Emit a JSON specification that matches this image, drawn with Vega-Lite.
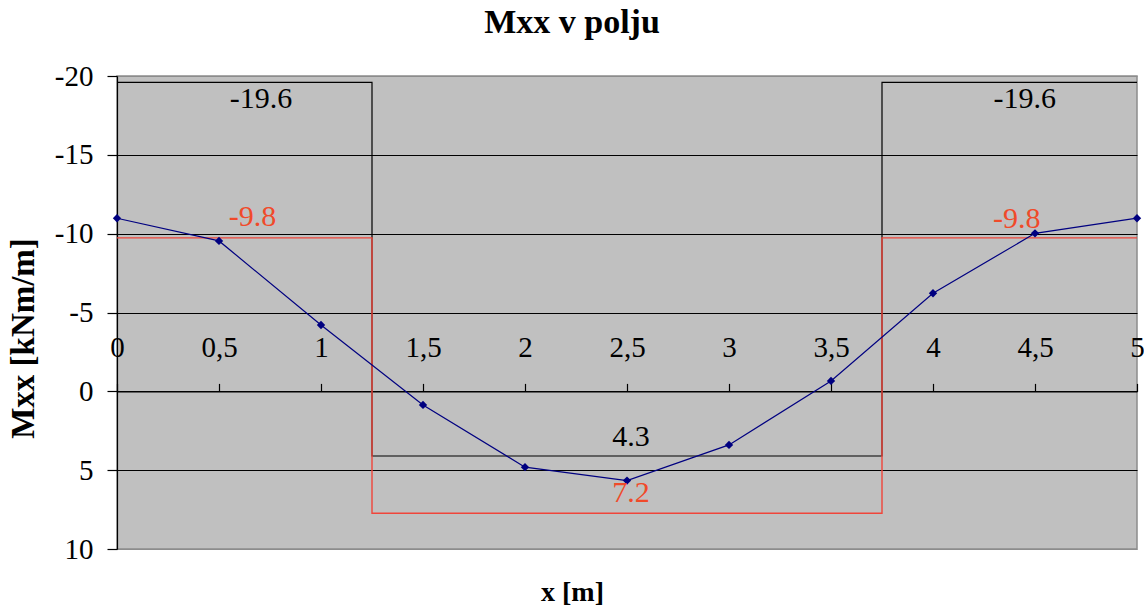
{
  "$schema": "https://vega.github.io/schema/vega-lite/v6.json",
  "width": 1020,
  "height": 473,
  "autosize": {"type": "none"},
  "padding": {"left": 117, "top": 76, "right": 7, "bottom": 57},
  "background": "white",
  "title": {
    "text": "Mxx v polju",
    "font": "Liberation Serif",
    "fontSize": 34,
    "fontWeight": "bold",
    "color": "black",
    "anchor": "middle",
    "frame": "group",
    "dx": -55,
    "offset": 22
  },
  "config": {
    "view": {"fill": "#c0c0c0", "stroke": "#8c8c8c", "strokeWidth": 1.5},
    "axis": {
      "labelFont": "Liberation Serif",
      "labelFontSize": 29,
      "labelColor": "black",
      "titleFont": "Liberation Serif",
      "titleFontSize": 30,
      "titleFontWeight": "bold",
      "titleColor": "black",
      "domainColor": "black",
      "tickColor": "black",
      "domainWidth": 1.2,
      "tickWidth": 1.2
    }
  },
  "layer": [
    {
      "data": {
        "values": [
          {"x": 0, "y": -19.6, "i": 0},
          {"x": 1.25, "y": -19.6, "i": 1},
          {"x": 1.25, "y": 4.1, "i": 2},
          {"x": 3.75, "y": 4.1, "i": 3},
          {"x": 3.75, "y": -19.6, "i": 4},
          {"x": 5, "y": -19.6, "i": 5}
        ]
      },
      "mark": {"type": "line", "color": "black", "strokeWidth": 1.2},
      "encoding": {
        "x": {
          "field": "x",
          "type": "quantitative",
          "scale": {"domain": [0, 5], "nice": false, "zero": false},
          "axis": {
            "orient": "top",
            "offset": -315.4,
            "values": [0, 0.5, 1, 1.5, 2, 2.5, 3, 3.5, 4, 4.5, 5],
            "labelExpr": "replace('' + datum.value, '.', ',')",
            "labelFlush": false,
            "labelOverlap": false,
            "labelBaseline": "alphabetic",
            "tickSize": 8,
            "labelPadding": 27,
            "grid": false,
            "title": "x [m]",
            "titleFontSize": 28,
            "titleX": 455,
            "titleY": 201,
            "titleAlign": "center",
            "titleBaseline": "middle",
            "titleAngle": 0
          }
        },
        "y": {
          "field": "y",
          "type": "quantitative",
          "scale": {"domain": [-20, 10], "nice": false, "zero": false, "reverse": true},
          "axis": {
            "orient": "left",
            "values": [-20, -15, -10, -5, 0, 5, 10],
            "labelExpr": "'' + datum.value",
            "tickSize": 10,
            "labelPadding": 14,
            "labelBaseline": "middle",
            "grid": true,
            "gridColor": {"condition": {"test": "datum.value == -20 || datum.value == 10", "value": "#8c8c8c"}, "value": "black"},
            "gridWidth": 1.2,
            "gridOpacity": 1,
            "title": "Mxx [kNm/m]",
            "titleFontSize": 33,
            "titleX": -94,
            "titleY": 262,
            "titleAlign": "center",
            "titleBaseline": "middle",
            "titleAngle": -90
          }
        },
        "order": {"field": "i", "type": "quantitative"}
      }
    },
    {
      "data": {
        "values": [
          {"x": 0, "y": -9.73, "i": 0},
          {"x": 1.25, "y": -9.73, "i": 1},
          {"x": 1.25, "y": 7.73, "i": 2},
          {"x": 3.75, "y": 7.73, "i": 3},
          {"x": 3.75, "y": -9.73, "i": 4},
          {"x": 5, "y": -9.73, "i": 5}
        ]
      },
      "mark": {"type": "line", "color": "#f0453a", "strokeWidth": 1.4},
      "encoding": {
        "x": {"field": "x", "type": "quantitative"},
        "y": {"field": "y", "type": "quantitative"},
        "order": {"field": "i", "type": "quantitative"}
      }
    },
    {
      "data": {
        "values": [
          {"x": 0, "y": -10.98},
          {"x": 0.5, "y": -9.54},
          {"x": 1, "y": -4.21},
          {"x": 1.5, "y": 0.86},
          {"x": 2, "y": 4.81},
          {"x": 2.5, "y": 5.66},
          {"x": 3, "y": 3.4},
          {"x": 3.5, "y": -0.66},
          {"x": 4, "y": -6.22},
          {"x": 4.5, "y": -10.02},
          {"x": 5, "y": -10.98}
        ]
      },
      "mark": {
        "type": "line",
        "color": "#000080",
        "strokeWidth": 1.2,
        "point": {"shape": "diamond", "filled": true, "size": 70, "color": "#000080"}
      },
      "encoding": {
        "x": {"field": "x", "type": "quantitative"},
        "y": {"field": "y", "type": "quantitative"}
      }
    },
    {
      "data": {
        "values": [
          {"x": 0.706, "y": -18.54, "t": "-19.6"},
          {"x": 4.45, "y": -18.54, "t": "-19.6"},
          {"x": 2.52, "y": 2.89, "t": "4.3"}
        ]
      },
      "mark": {"type": "text", "font": "Liberation Serif", "fontSize": 30, "color": "black", "align": "center", "baseline": "middle"},
      "encoding": {
        "x": {"field": "x", "type": "quantitative"},
        "y": {"field": "y", "type": "quantitative"},
        "text": {"field": "t"}
      }
    },
    {
      "data": {
        "values": [
          {"x": 0.664, "y": -11.03, "t": "-9.8"},
          {"x": 4.41, "y": -10.93, "t": "-9.8"},
          {"x": 2.52, "y": 6.44, "t": "7.2"}
        ]
      },
      "mark": {"type": "text", "font": "Liberation Serif", "fontSize": 30, "color": "#f04a2a", "align": "center", "baseline": "middle"},
      "encoding": {
        "x": {"field": "x", "type": "quantitative"},
        "y": {"field": "y", "type": "quantitative"},
        "text": {"field": "t"}
      }
    }
  ]
}
